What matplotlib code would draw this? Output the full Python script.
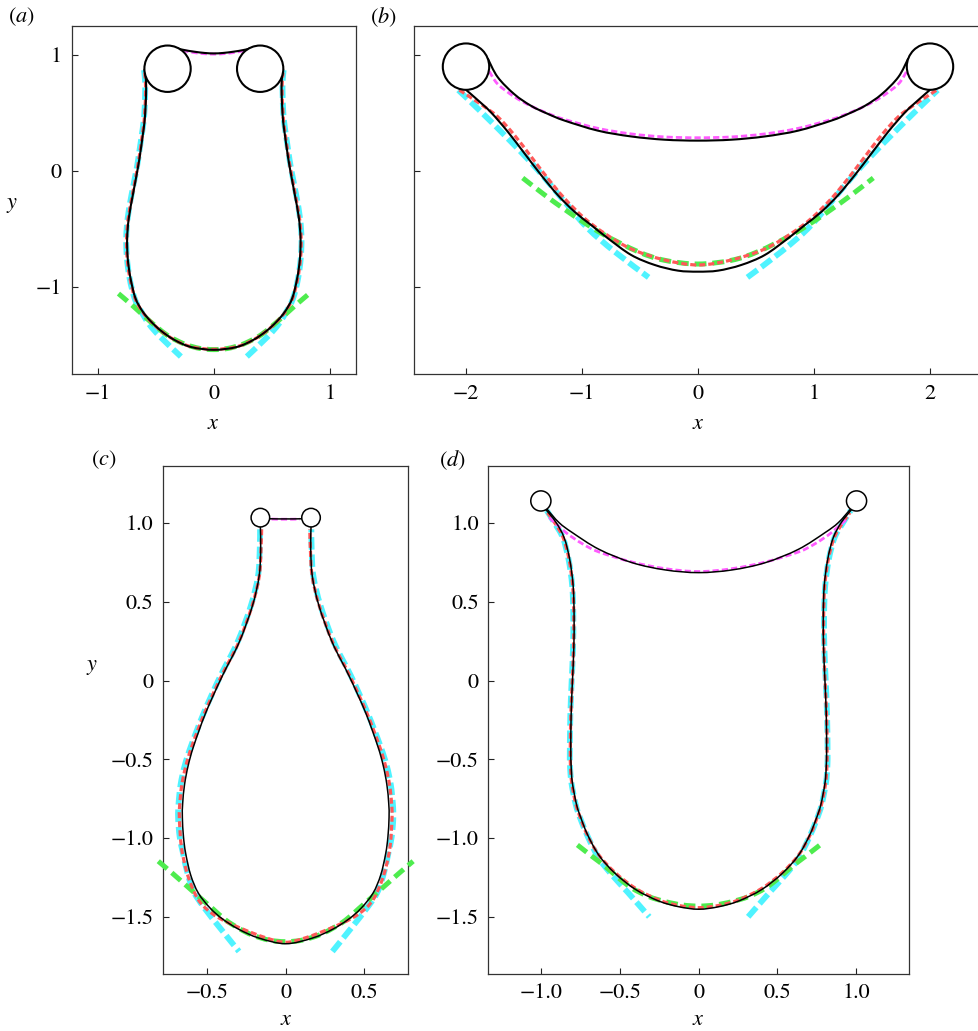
import numpy as np
import matplotlib
matplotlib.use("Agg")
import matplotlib.pyplot as plt
from matplotlib.patches import Circle, PathPatch
from matplotlib.path import Path

plt.rcParams['font.family'] = 'STIXGeneral'
plt.rcParams['mathtext.fontset'] = 'stix'
plt.rcParams['lines.scale_dashes'] = False

# ---- panel (a): right halves, listed from the axis outwards ----
A_CIRCLE = (0.40, 0.882, 0.20)
A_TOP_X = [0.0, 0.08, 0.17, 0.25, 0.31, 0.36]
A_TOP_Y = [1.014, 1.018, 1.029, 1.042, 1.056, 1.073]
A_MAG_X = [0.0, 0.10, 0.20, 0.28, 0.35]
A_MAG_Y = [1.008, 1.013, 1.026, 1.042, 1.062]
A_BODY_X = [0.0, 0.196, 0.340, 0.455, 0.542, 0.614, 0.677, 0.720, 0.744, 0.749,
            0.735, 0.700, 0.657, 0.634, 0.614, 0.599, 0.591, 0.586, 0.586, 0.594, 0.600]
A_BODY_Y = [-1.542, -1.518, -1.457, -1.379, -1.299, -1.213, -1.098, -0.925, -0.753, -0.580,
            -0.408, -0.207, 0.023, 0.167, 0.310, 0.425, 0.540, 0.660, 0.770, 0.850, 0.882]
A_RED_X = [0.0, 0.196, 0.341, 0.457, 0.545, 0.618, 0.681, 0.725, 0.749, 0.754,
           0.740, 0.704, 0.661, 0.638, 0.618, 0.603, 0.595, 0.590, 0.591, 0.598]
A_RED_Y = [-1.538, -1.515, -1.455, -1.378, -1.298, -1.213, -1.098, -0.925, -0.753, -0.580,
           -0.408, -0.207, 0.023, 0.167, 0.310, 0.425, 0.540, 0.660, 0.770, 0.850]
A_CYAN_X = [0.285, 0.465, 0.560, 0.625, 0.684, 0.727, 0.751, 0.757, 0.745, 0.712,
            0.667, 0.644, 0.623, 0.607, 0.598, 0.594, 0.594, 0.603]
A_CYAN_Y = [-1.600, -1.428, -1.320, -1.215, -1.100, -0.930, -0.750, -0.580, -0.410, -0.210,
            0.020, 0.167, 0.310, 0.425, 0.540, 0.660, 0.770, 0.870]
A_GREEN_X = [0.0, 0.12, 0.233, 0.32, 0.406, 0.50, 0.608, 0.71, 0.824]
A_GREEN_Y = [-1.540, -1.530, -1.500, -1.462, -1.414, -1.340, -1.246, -1.154, -1.057]

# ---- panel (b) ----
B_CIRCLE = (2.0, 0.90, 0.20)
B_TOP_X = [0.0, 0.288, 0.576, 0.863, 1.151, 1.295, 1.439, 1.583, 1.727, 1.813]
B_TOP_Y = [0.262, 0.270, 0.298, 0.348, 0.435, 0.493, 0.562, 0.662, 0.810, 0.972]
B_MAG_X = [0.0, 0.288, 0.576, 0.863, 1.151, 1.295, 1.439, 1.583, 1.727, 1.800]
B_MAG_Y = [0.287, 0.294, 0.320, 0.368, 0.445, 0.497, 0.560, 0.640, 0.750, 0.860]
B_BODY_X = [0.0, 0.173, 0.374, 0.576, 0.777, 0.921, 1.065, 1.209, 1.353, 1.496,
            1.640, 1.784, 1.899, 2.0]
B_BODY_Y = [-0.868, -0.859, -0.810, -0.724, -0.580, -0.466, -0.351, -0.207, -0.034, 0.152,
            0.339, 0.505, 0.612, 0.700]
B_RED_X = [0.0, 0.288, 0.576, 0.806, 0.978, 1.151, 1.295, 1.439, 1.583, 1.727, 1.871, 2.058]
B_RED_Y = [-0.810, -0.767, -0.672, -0.537, -0.408, -0.236, -0.063, 0.124, 0.310, 0.468, 0.575, 0.698]
B_CYAN_X = [0.426, 0.719, 0.950, 1.151, 1.381, 1.612, 1.871, 2.066]
B_CYAN_Y = [-0.917, -0.695, -0.494, -0.264, 0.009, 0.253, 0.511, 0.698]
B_GREEN_X = [0.0, 0.288, 0.518, 0.806, 0.993, 1.151, 1.324, 1.511]
B_GREEN_Y = [-0.802, -0.770, -0.695, -0.552, -0.437, -0.330, -0.205, -0.060]

# ---- panel (c) ----
C_CIRCLE = (0.161, 1.034, 0.059)
C_TOP_X = [0.0, 0.05, 0.103]
C_TOP_Y = [1.026, 1.026, 1.027]
C_MAG_X = [0.0, 0.045, 0.09]
C_MAG_Y = [1.024, 1.024, 1.025]
C_BODY_X = [0.0, 0.17, 0.297, 0.40, 0.48, 0.555, 0.604, 0.636, 0.650, 0.657, 0.655,
            0.643, 0.620, 0.585, 0.508, 0.403, 0.297, 0.212, 0.169, 0.159, 0.161]
C_BODY_Y = [-1.671, -1.635, -1.580, -1.515, -1.445, -1.350, -1.235, -1.097, -0.990, -0.870, -0.780,
            -0.660, -0.540, -0.416, -0.204, 0.029, 0.240, 0.473, 0.663, 0.833, 0.975]
C_RED_X = [0.0, 0.13, 0.28, 0.42, 0.508, 0.561, 0.604, 0.636, 0.664, 0.676, 0.673,
           0.660, 0.634, 0.596, 0.515, 0.408, 0.300, 0.214, 0.168, 0.157, 0.153]
C_RED_Y = [-1.662, -1.632, -1.575, -1.510, -1.447, -1.383, -1.290, -1.190, -1.050, -0.870, -0.780,
           -0.660, -0.540, -0.416, -0.204, 0.029, 0.240, 0.473, 0.663, 0.833, 0.960]
C_CYAN_X = [0.297, 0.41, 0.52, 0.585, 0.625, 0.652, 0.674, 0.684, 0.681, 0.668, 0.642,
            0.602, 0.520, 0.415, 0.308, 0.222, 0.176, 0.165, 0.163]
C_CYAN_Y = [-1.720, -1.580, -1.440, -1.340, -1.220, -1.100, -0.992, -0.870, -0.780, -0.660, -0.540,
            -0.416, -0.204, 0.029, 0.240, 0.473, 0.663, 0.833, 0.960]
C_GREEN_X = [0.0, 0.106, 0.212, 0.297, 0.381, 0.466, 0.551, 0.636, 0.72, 0.81]
C_GREEN_Y = [-1.658, -1.648, -1.616, -1.574, -1.521, -1.447, -1.373, -1.298, -1.224, -1.147]

# ---- panel (d) ----
D_CIRCLE = (1.002, 1.14, 0.064)
D_TOP_X = [0.0, 0.211, 0.422, 0.633, 0.802, 0.886, 0.966]
D_TOP_Y = [0.685, 0.702, 0.748, 0.833, 0.939, 1.002, 1.091]
D_MAG_X = [0.0, 0.211, 0.422, 0.633, 0.738, 0.844, 0.949]
D_MAG_Y = [0.692, 0.710, 0.752, 0.816, 0.868, 0.940, 1.034]
D_BODY_X = [0.0, 0.127, 0.253, 0.40, 0.53, 0.633, 0.705, 0.745, 0.775, 0.802, 0.810,
            0.812, 0.810, 0.802, 0.793, 0.791, 0.797, 0.819, 0.854, 0.907, 0.975]
D_BODY_Y = [-1.452, -1.436, -1.400, -1.327, -1.225, -1.110, -0.980, -0.880, -0.790, -0.649, -0.540,
            -0.437, -0.225, -0.014, 0.198, 0.410, 0.600, 0.769, 0.906, 1.006, 1.091]
D_RED_X = [0.0, 0.127, 0.253, 0.40, 0.53, 0.636, 0.71, 0.75, 0.78, 0.806, 0.814,
           0.815, 0.812, 0.803, 0.795, 0.793, 0.80, 0.823, 0.86, 0.91, 0.96]
D_RED_Y = [-1.442, -1.428, -1.393, -1.320, -1.220, -1.105, -0.975, -0.875, -0.785, -0.649, -0.540,
           -0.437, -0.225, -0.014, 0.198, 0.410, 0.600, 0.769, 0.906, 0.995, 1.065]
D_CYAN_X = [0.314, 0.45, 0.55, 0.633, 0.70, 0.75, 0.78, 0.808, 0.817, 0.818,
            0.815, 0.807, 0.798, 0.796, 0.803, 0.826, 0.862, 0.915, 0.965]
D_CYAN_Y = [-1.500, -1.345, -1.235, -1.130, -1.000, -0.880, -0.790, -0.649, -0.540, -0.437,
            -0.225, -0.014, 0.198, 0.410, 0.600, 0.769, 0.906, 1.000, 1.080]
D_GREEN_X = [0.0, 0.105, 0.211, 0.316, 0.422, 0.506, 0.591, 0.675, 0.77]
D_GREEN_Y = [-1.432, -1.425, -1.404, -1.372, -1.319, -1.256, -1.182, -1.118, -1.044]

# tick values and labels
AB_YTICKS = [-1, 0, 1]
AB_YLABELS = ['\u22121', '0', '1']
A_XTICKS = [-1, 0, 1]
A_XLABELS = ['\u22121', '0', '1']
B_XTICKS = [-2, -1, 0, 1, 2]
B_XLABELS = ['\u22122', '\u22121', '0', '1', '2']
CD_YTICKS = [-1.5, -1.0, -0.5, 0, 0.5, 1.0]
CD_YLABELS = ['\u22121.5', '\u22121.0', '\u22120.5', '0', '0.5', '1.0']
C_XTICKS = [-0.5, 0, 0.5]
C_XLABELS = ['\u22120.5', '0', '0.5']
D_XTICKS = [-1.0, -0.5, 0, 0.5, 1.0]
D_XLABELS = ['\u22121.0', '\u22120.5', '0', '0.5', '1.0']

W, H = 979, 1031
FS = 16

CYAN = '#4ff3ff'
GREEN = '#4eec4e'
RED = '#ff5858'
MAGENTA = '#ff5cff'


def both_sides(x, y):
    """Mirror a right half (ordered from x=0 outwards) onto the left."""
    x = np.asarray(x, float)
    y = np.asarray(y, float)
    start = 1 if x[0] == 0 else 0
    return np.r_[-x[::-1], x[start:]], np.r_[y[::-1], y[start:]]


def smooth_path(x, y):
    """Cubic Bezier path passing through every given point (Catmull-Rom tangents)."""
    p = np.column_stack([x, y])
    n = len(p)
    if n < 3:
        return Path(p)
    ext = np.vstack([p[0], p, p[-1]])
    verts = [p[0]]
    codes = [Path.MOVETO]
    for i in range(n - 1):
        p0, p1, p2, p3 = ext[i], ext[i + 1], ext[i + 2], ext[i + 3]
        verts += [p1 + (p2 - p0) / 6, p2 - (p3 - p1) / 6, p2]
        codes += [Path.CURVE4] * 3
    return Path(np.array(verts), codes)


def curve(ax, x, y, color, lw, dashes=None, z=2, clip=True):
    ls = 'solid' if dashes is None else (0, dashes)
    patch = PathPatch(smooth_path(x, y), fill=False, edgecolor=color, lw=lw,
                      linestyle=ls, zorder=z, capstyle='butt', joinstyle='round')
    ax.add_patch(patch)
    patch.set_clip_on(clip)


def px_axes(fig, left, right, top, bottom):
    return fig.add_axes([left / W, 1 - bottom / H, (right - left) / W, (bottom - top) / H])


def draw_panel(ax, circ, top, mag, body, red, cyan, green, thin=False, green_clip=True):
    lw_k = 1.1 if thin else 1.5
    # cyan is drawn as two separate branches, one per side
    n = len(cyan[0])
    cx_all, cy_all = both_sides(*cyan)
    curve(ax, cx_all[:n], cy_all[:n], CYAN, 4.2, (9, 3.5), z=2)
    curve(ax, cx_all[n:], cy_all[n:], CYAN, 4.2, (9, 3.5), z=2)
    curve(ax, *both_sides(*green), GREEN, 3.6, (8.5, 4.3), z=3, clip=green_clip)
    curve(ax, *both_sides(*red), RED, 2.3, (4.3, 2.2), z=4)
    curve(ax, *both_sides(*mag), MAGENTA, 2.0, (4.5, 2.2), z=4)
    curve(ax, *both_sides(*top), 'k', lw_k, z=5)
    curve(ax, *both_sides(*body), 'k', lw_k, z=5)
    cx, cy, r = circ
    for sx in (-cx, cx):
        ax.add_patch(Circle((sx, cy), r, facecolor='white', edgecolor='k', lw=lw_k, zorder=6))


def style(ax, xlim, ylim, xticks, xlabels, yticks, ylabels):
    ax.set_xlim(*xlim)
    ax.set_ylim(*ylim)
    ax.set_xticks(xticks)
    ax.set_xticklabels(xlabels)
    ax.set_yticks(yticks)
    ax.set_yticklabels(ylabels)
    ax.tick_params(direction='in', length=4, width=0.8, labelsize=FS, pad=7,
                   top=False, right=False, colors='#222222', labelcolor='black')
    for s in ax.spines.values():
        s.set_linewidth(0.9)
        s.set_color('#333333')


fig = plt.figure(figsize=(W / 100, H / 100), dpi=100)

ax_a = px_axes(fig, 71.7, 356.0, 25.7, 374.3)
draw_panel(ax_a, A_CIRCLE, (A_TOP_X, A_TOP_Y), (A_MAG_X, A_MAG_Y), (A_BODY_X, A_BODY_Y),
           (A_RED_X, A_RED_Y), (A_CYAN_X, A_CYAN_Y), (A_GREEN_X, A_GREEN_Y))
style(ax_a, (-1.228, 1.228), (-1.753, 1.253), A_XTICKS, A_XLABELS, AB_YTICKS, AB_YLABELS)

ax_b = px_axes(fig, 413.8, 982.2, 25.7, 374.3)
draw_panel(ax_b, B_CIRCLE, (B_TOP_X, B_TOP_Y), (B_MAG_X, B_MAG_Y), (B_BODY_X, B_BODY_Y),
           (B_RED_X, B_RED_Y), (B_CYAN_X, B_CYAN_Y), (B_GREEN_X, B_GREEN_Y))
style(ax_b, (-2.45, 2.45), (-1.753, 1.253), B_XTICKS, B_XLABELS, AB_YTICKS, [''] * 3)

ax_c = px_axes(fig, 163.0, 408.4, 466.3, 973.5)
draw_panel(ax_c, C_CIRCLE, (C_TOP_X, C_TOP_Y), (C_MAG_X, C_MAG_Y), (C_BODY_X, C_BODY_Y),
           (C_RED_X, C_RED_Y), (C_CYAN_X, C_CYAN_Y), (C_GREEN_X, C_GREEN_Y),
           thin=True, green_clip=False)
style(ax_c, (-0.78, 0.78), (-1.86, 1.36), C_XTICKS, C_XLABELS, CD_YTICKS, CD_YLABELS)

ax_d = px_axes(fig, 488.4, 909.0, 466.3, 973.5)
draw_panel(ax_d, D_CIRCLE, (D_TOP_X, D_TOP_Y), (D_MAG_X, D_MAG_Y), (D_BODY_X, D_BODY_Y),
           (D_RED_X, D_RED_Y), (D_CYAN_X, D_CYAN_Y), (D_GREEN_X, D_GREEN_Y), thin=True)
style(ax_d, (-1.335, 1.335), (-1.86, 1.36), D_XTICKS, D_XLABELS, CD_YTICKS, CD_YLABELS)


def label(x, y, s):
    fig.text(x / W, 1 - y / H, s, fontsize=FS, ha='center', va='center')


label(21, 17, '$(a)$')
label(383, 17, '$(b)$')
label(104, 460, '$(c)$')
label(452, 460, '$(d)$')
label(12, 205, '$y$')
label(92, 667, '$y$')
label(213, 424, '$x$')
label(698, 424, '$x$')
label(286, 1020, '$x$')
label(698, 1020, '$x$')

fig.savefig('out.png', dpi=100)
